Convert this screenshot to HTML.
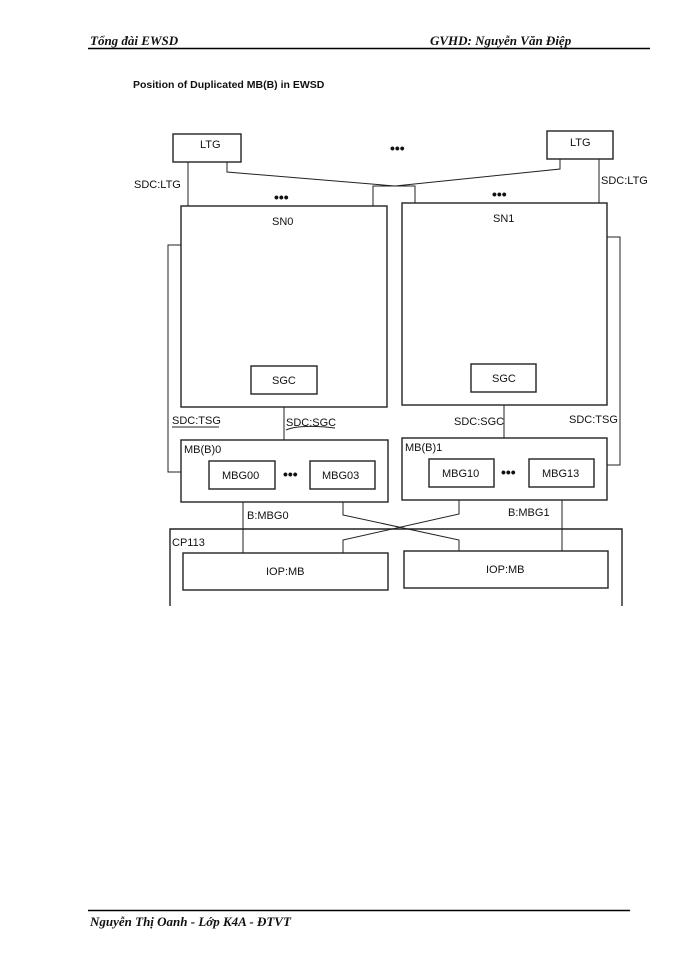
<!DOCTYPE html>
<html><head><meta charset="utf-8"><style>
html,body{margin:0;padding:0;background:#fff;}
svg{display:block;}
text{font-family:"Liberation Sans",sans-serif;fill:#111;}
.s{font-family:"Liberation Serif",serif;font-style:italic;font-weight:bold;}
</style></head><body>
<svg width="700" height="960" viewBox="0 0 700 960" xmlns="http://www.w3.org/2000/svg">
<text class="s" x="90" y="45" font-size="13">Tổng đài EWSD</text>
<text class="s" x="430" y="45" font-size="13">GVHD: Nguyễn Văn Điệp</text>
<line x1="88" y1="48.5" x2="650" y2="48.5" stroke="#000" stroke-width="1.5"/>
<text x="133" y="88" font-size="10.5" font-weight="bold">Position of Duplicated MB(B) in EWSD</text>

<g fill="none" stroke="#222" stroke-width="1.4">
<rect x="173" y="134" width="68" height="28"/>
<rect x="547" y="131" width="66" height="28"/>
<line x1="188" y1="162" x2="188" y2="206" stroke-width="1"/>
<line x1="599" y1="159" x2="599" y2="203" stroke-width="1"/>
<polyline points="227,162 227,172 395,186 415,186 415,203" stroke-width="1"/>
<polyline points="560,159 560,169 395,186 373,186 373,206" stroke-width="1"/>
<rect x="181" y="206" width="206" height="201"/>
<rect x="402" y="203" width="205" height="202"/>
<rect x="251" y="366" width="66" height="28"/>
<rect x="471" y="364" width="65" height="28"/>
<polyline points="181,245 168,245 168,472 181,472" stroke-width="1"/>
<polyline points="607,237 620,237 620,465 607,465" stroke-width="1"/>
<line x1="284" y1="407" x2="284" y2="440" stroke-width="1"/>
<line x1="504" y1="405" x2="504" y2="438" stroke-width="1"/>
<rect x="181" y="440" width="207" height="62"/>
<rect x="402" y="438" width="205" height="62"/>
<rect x="209" y="461" width="66" height="28"/>
<rect x="310" y="461" width="65" height="28"/>
<rect x="429" y="459" width="65" height="28"/>
<rect x="529" y="459" width="65" height="28"/>
<line x1="243" y1="502" x2="243" y2="553" stroke-width="1"/>
<line x1="562" y1="500" x2="562" y2="551" stroke-width="1"/>
<polyline points="343,502 343,515 459,540 459,551" stroke-width="1"/>
<polyline points="459,500 459,514 343,540 343,553" stroke-width="1"/>
<polyline points="170,606 170,529 622,529 622,606"/>
<rect x="183" y="553" width="205" height="37"/>
<rect x="404" y="551" width="204" height="37"/>
</g>

<g font-size="11">
<text x="200" y="148">LTG</text>
<text x="570" y="146">LTG</text>
<text x="134" y="188">SDC:LTG</text>
<text x="601" y="184">SDC:LTG</text>
<text x="272" y="225">SN0</text>
<text x="493" y="222">SN1</text>
<text x="272" y="384">SGC</text>
<text x="492" y="382">SGC</text>
<text x="172" y="424">SDC:TSG</text>
<text x="286" y="426">SDC:SGC</text>
<text x="454" y="425">SDC:SGC</text>
<text x="569" y="423">SDC:TSG</text>
<text x="184" y="453">MB(B)0</text>
<text x="405" y="451">MB(B)1</text>
<text x="222" y="479">MBG00</text>
<text x="322" y="479">MBG03</text>
<text x="442" y="477">MBG10</text>
<text x="542" y="477">MBG13</text>
<text x="247" y="519">B:MBG0</text>
<text x="508" y="516">B:MBG1</text>
<text x="172" y="546">CP113</text>
<text x="266" y="575">IOP:MB</text>
<text x="486" y="573">IOP:MB</text>
</g>
<g font-size="14" font-weight="bold">
<text x="390" y="153">•••</text>
<text x="274" y="202">•••</text>
<text x="492" y="199">•••</text>
<text x="283" y="479">•••</text>
<text x="501" y="477">•••</text>
</g>
<line x1="172" y1="427" x2="219" y2="427" stroke="#222" stroke-width="1"/>
<path d="M286 430 Q300 424 335 428" fill="none" stroke="#222" stroke-width="1"/>

<line x1="88" y1="910.5" x2="630" y2="910.5" stroke="#000" stroke-width="1.5"/>
<text class="s" x="90" y="926" font-size="13">Nguyễn Thị Oanh - Lớp K4A - ĐTVT</text>
</svg>
</body></html>
